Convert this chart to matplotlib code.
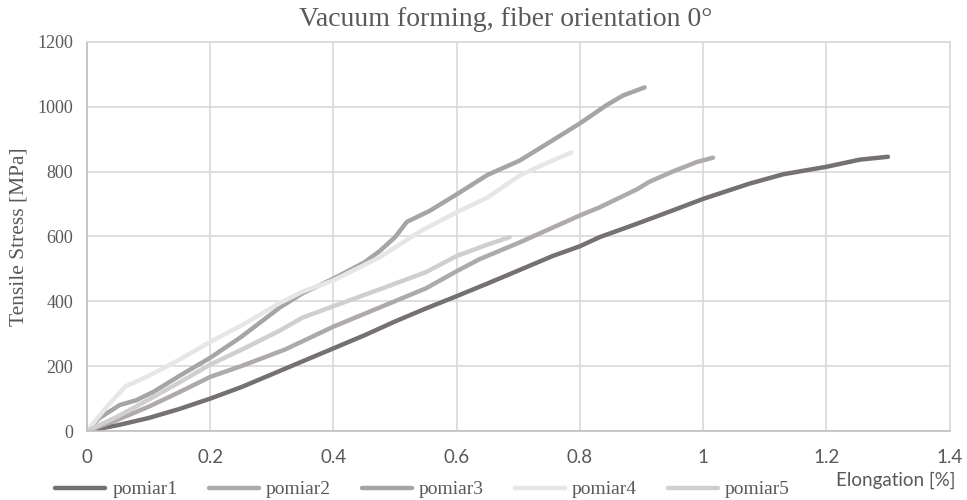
import matplotlib
matplotlib.use("Agg")
import matplotlib.pyplot as plt

# elongation [%] / tensile stress [MPa]
p1_x = [0, 0.05, 0.1, 0.15, 0.2, 0.25, 0.3, 0.35, 0.4, 0.45, 0.5, 0.55, 0.6, 0.65, 0.7,
        0.756, 0.8, 0.832, 0.892, 0.95, 1.0, 1.075, 1.13, 1.2, 1.254, 1.3]
p1_y = [0, 18, 40, 68, 100, 135, 175, 215, 255, 295, 338, 378, 416, 455, 495,
        540, 570, 598, 639, 680, 716, 763, 792, 815, 837, 846]

p2_x = [0, 0.05, 0.1, 0.15, 0.2, 0.25, 0.321, 0.4, 0.475, 0.55, 0.6, 0.637, 0.7, 0.8,
        0.832, 0.892, 0.913, 0.95, 0.99, 1.016]
p2_y = [0, 35, 75, 120, 167, 200, 251, 322, 381, 440, 493, 530, 580, 665,
        690, 745, 769, 800, 830, 843]

p3_x = [0, 0.02, 0.053, 0.08, 0.108, 0.15, 0.2, 0.25, 0.313, 0.35, 0.4, 0.45, 0.475,
        0.5, 0.519, 0.556, 0.6, 0.65, 0.702, 0.75, 0.8, 0.843, 0.87, 0.905]
p3_y = [0, 40, 80, 95, 121, 170, 226, 290, 381, 425, 470, 520, 555,
        598, 645, 679, 730, 790, 834, 890, 949, 1005, 1035, 1060]

p4_x = [0, 0.03, 0.062, 0.1, 0.15, 0.2, 0.25, 0.313, 0.35, 0.4, 0.475, 0.54, 0.6,
        0.65, 0.702, 0.75, 0.786]
p4_y = [0, 70, 137, 170, 220, 275, 325, 395, 430, 465, 536, 615, 675,
        720, 788, 830, 859]

p5_x = [0, 0.05, 0.108, 0.15, 0.2, 0.25, 0.313, 0.35, 0.4, 0.475, 0.55, 0.6, 0.65, 0.686]
p5_y = [0, 45, 105, 150, 205, 250, 310, 350, 385, 437, 490, 540, 575, 598]

series = [("pomiar1", p1_x, p1_y, "#767171"),
          ("pomiar2", p2_x, p2_y, "#AEAAAA"),
          ("pomiar3", p3_x, p3_y, "#A5A5A5"),
          ("pomiar4", p4_x, p4_y, "#E7E6E6"),
          ("pomiar5", p5_x, p5_y, "#D0CECE")]

serif = "Liberation Serif"
sans = "Lato"

fig = plt.figure(figsize=(9.67, 5), dpi=100)
ax = fig.add_axes([0.090, 0.138, 0.892, 0.778])

for name, xs, ys, col in series:
    ax.plot(xs, ys, color=col, lw=3.2, label=name, solid_capstyle="round")

ax.set_xlim(0, 1.4)
ax.set_ylim(0, 1200)
ax.set_xticks([0, 0.2, 0.4, 0.6, 0.8, 1.0, 1.2, 1.4])
ax.set_xticklabels(["0", "0.2", "0.4", "0.6", "0.8", "1", "1.2", "1.4"],
                   fontfamily=sans, fontsize=13.5, color="#595959")
ax.set_yticks(range(0, 1201, 200))
ax.set_yticklabels([str(v) for v in range(0, 1201, 200)],
                   fontfamily=serif, fontsize=13, color="#595959")
ax.tick_params(length=0, pad=10)
ax.tick_params(axis="x", pad=13)

ax.grid(True, color="#D9D9D9", lw=1.2)
ax.set_axisbelow(True)
for s in ax.spines.values():
    s.set_color("#D9D9D9")
    s.set_linewidth(1.2)
ax.spines["left"].set_color("#BFBFBF")
ax.spines["bottom"].set_color("#BFBFBF")

ax.set_ylabel("Tensile Stress [MPa]", fontfamily=serif, fontsize=15.5, color="#595959", labelpad=6)
fig.text(0.523, 0.962, "Vacuum forming, fiber orientation 0°", ha="center", va="center",
         fontfamily=serif, fontsize=20, color="#595959")
fig.text(0.926, 0.040, "Elongation [%]", ha="center", va="center",
         fontfamily=sans, fontsize=13.5, color="#595959")

leg = fig.legend(loc="center", bbox_to_anchor=(0.437, 0.021), ncol=5, frameon=False,
                 prop={"family": serif, "size": 14}, handlelength=2.57,
                 handletextpad=0.36, columnspacing=1.6)
for t in leg.get_texts():
    t.set_color("#595959")

fig.savefig("out.png", dpi=100)
